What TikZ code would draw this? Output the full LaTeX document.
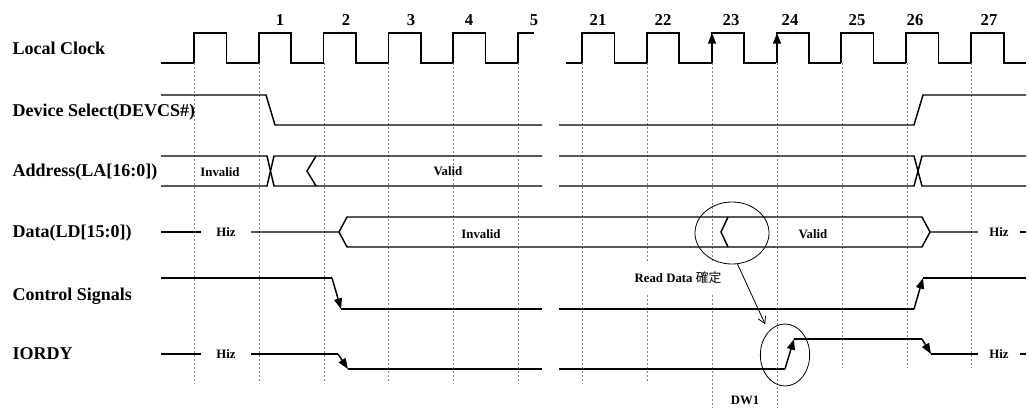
\documentclass[tikz,border=0pt]{standalone}
\usepackage{fontspec}
\setmainfont{Liberation Serif}
\newfontfamily\cjk{Noto Sans CJK JP}
\usetikzlibrary{arrows.meta}
\usetikzlibrary{shapes.geometric}

\tikzset{
    sig/.style={line width=1.1pt},
    tick/.style={gray, line width=0.5pt, dash pattern=on 1.5pt off 1.5pt},
    edge/.style={sig, -{Triangle[length=8pt,width=6pt]}},
    note/.style={line width=0.6pt, -{Straight Barb[length=5pt,width=6pt]}},
    ring/.style={ellipse, draw, line width=0.6pt, inner sep=0pt},
    lbl/.style={anchor=west, font=\bfseries\fontsize{13.5}{15}\selectfont},
    tag/.style={font=\bfseries\fontsize{9.6}{11}\selectfont},
    num/.style={font=\bfseries\fontsize{12.5}{14}\selectfont},
}

\begin{document}
\begin{tikzpicture}[x=0.75pt, y=-0.75pt]
    \useasboundingbox (0,0) rectangle (1029,408);

    % dashed clock marks
    \foreach \x/\y in {194/383, 259/383, 324/383, 388/383, 453/383, 518/383, 582/383, 777/408, 842/368, 907/368, 971/368}
        \draw[tick] (\x,63) -- (\x,\y);
    \draw[tick] (647,63) -- (647,262) (647,295) -- (647,383);
    \draw[tick] (712,63) -- (712,262) (712,295) -- (712,408);

    % signal names
    \node[lbl] (lclk) at (8,48) {Local Clock};
    \node[lbl] (ldev) at (8,112) {Device Select(DEVCS\#)};
    \node[lbl] (ladr) at (8,172) {Address(LA[16:0])};
    \node[lbl] (ldat) at (8,233) {Data(LD[15:0])};
    \node[lbl] (lctl) at (8,296) {Control Signals};
    \node[lbl] (lrdy) at (8,354) {IORDY};

    % clock
    \draw[sig] (161,63) -- (194,63);
    \foreach \k in {0,...,4}
        \draw[sig] ({194+\k*64.8},63) -- ++(0,-30) -- ++(32.4,0) -- ++(0,30) -- ++(32.4,0);
    \draw[sig] (518,63) -- (518,33) -- (534,33);
    \draw[sig] (566,63) -- (582,63);
    \foreach \k in {0,...,5}
        \draw[sig] ({582+\k*64.8},63) -- ++(0,-30) -- ++(32.4,0) -- ++(0,30) -- ++(32.4,0);
    \draw[sig] (971,63) -- (971,33) -- (1004,33) -- (1004,63) -- (1026,63);
    \draw[edge] (712,63) -- (712,33);
    \draw[edge] (777,63) -- (777,33);
    \foreach \x/\n in {280/1, 346/2, 411/3, 469/4, 534/5, 598/21, 663/22, 731/23, 790/24, 857/25, 915/26, 989/27}
        \node[num] (n\n) at (\x,20) {\n};

    % device select
    \draw[sig] (161,95) -- (266,95) -- (275,125) -- (542,125);
    \draw[sig] (559,125) -- (914,125) -- (923,95) -- (1026,95);

    % address
    \draw[sig] (161,156) -- (267,156) -- (274,186) -- (542,186);
    \draw[sig] (161,186) -- (267,186) -- (274,156) -- (542,156);
    \draw[sig] (316,156) -- (307,171) -- (316,186);
    \draw[sig] (559,156) -- (914,156) -- (922,186) -- (1026,186);
    \draw[sig] (559,186) -- (914,186) -- (922,156) -- (1026,156);
    \node[tag] (ainv) at (220,172) {Invalid};
    \node[tag] (aval) at (448,171) {Valid};

    % data
    \draw[sig] (161,232) -- (201,232);
    \draw[sig] (251,232) -- (339,232) -- (347,217) -- (922,217) -- (930,232) -- (978,232);
    \draw[sig] (339,232) -- (347,247) -- (922,247) -- (930,232);
    \draw[sig] (728,217) -- (721,232) -- (728,247);
    \draw[sig] (1020,232) -- (1026,232);
    \node[tag] (dhz1) at (226,232) {Hiz};
    \node[tag] (dinv) at (481,234) {Invalid};
    \node[tag] (dval) at (813,234) {Valid};
    \node[tag] (dhz2) at (999,232) {Hiz};

    % control signals
    \draw[sig] (161,278) -- (332,278);
    \draw[edge] (332,278) -- (341,309);
    \draw[sig] (341,309) -- (542,309);
    \draw[sig] (559,309) -- (914,309);
    \draw[edge] (914,309) -- (923,278);
    \draw[sig] (923,278) -- (1026,278);

    % iordy
    \draw[sig] (161,354) -- (201,354);
    \draw[sig] (251,354) -- (338,354);
    \draw[edge] (338,354) -- (348,369);
    \draw[sig] (348,369) -- (542,369);
    \draw[sig] (559,369) -- (785,369);
    \draw[edge] (785,369) -- (794,339);
    \draw[sig] (794,339) -- (922,339);
    \draw[edge] (922,339) -- (931,354);
    \draw[sig] (931,354) -- (978,354);
    \draw[sig] (1020,354) -- (1026,354);
    \node[tag] (rhz1) at (226,354) {Hiz};
    \node[tag] (rhz2) at (999,354) {Hiz};

    % read data / DW1
    \node[ring, minimum width=55.5pt, minimum height=46.5pt] (rdok) at (732,233) {};
    \node[ring, minimum width=37pt, minimum height=46.5pt] (dwell) at (785,355) {};
    \draw[note, shorten >=6pt] (rdok.-80) -- (dwell.125);
    \node[tag] (rdtxt) at (678,278) {Read Data {\cjk\mdseries 確定}};
    \node[tag] (dw1) at (745,400) {DW1};
\end{tikzpicture}
\end{document}
